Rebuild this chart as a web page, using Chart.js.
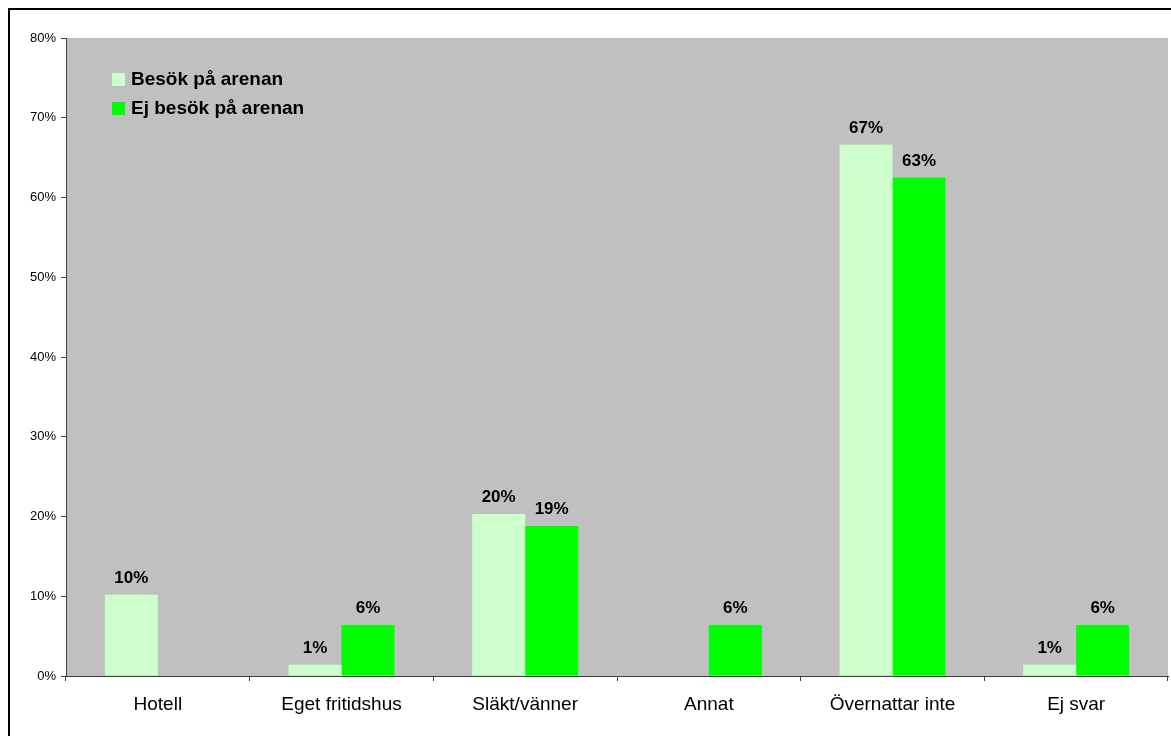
<!DOCTYPE html>
<html>
<head>
<meta charset="utf-8">
<script src="https://cdn.jsdelivr.net/npm/chart.js@4"></script>
<style>
  html, body { margin: 0; padding: 0; background: #fff; }
  #wrap { width: 1171px; height: 736px; position: relative; }
</style>
</head>
<body>
<div id="wrap"><canvas id="chart" width="1171" height="736"></canvas></div>
<script>
const categories = ['Hotell', 'Eget fritidshus', 'Släkt/vänner', 'Annat', 'Övernattar inte', 'Ej svar'];
const seriesNames = ['Besök på arenan', 'Ej besök på arenan'];
const besok = [10.2, 1.4, 20.3, 0, 66.6, 1.4];
const ejBesok = [0, 6.4, 18.8, 6.4, 62.5, 6.4];
const yTicks = [0, 10, 20, 30, 40, 50, 60, 70, 80];

const FONT = 'Arial, "Liberation Sans", sans-serif';

// gray plot area + outer frame
const backdrop = {
  id: 'backdrop',
  beforeDraw(chart) {
    const { ctx, chartArea: a } = chart;
    ctx.save();
    ctx.fillStyle = '#000';
    ctx.fillRect(8, 8, 1300, 2);
    ctx.fillRect(8, 8, 2, 900);
    ctx.fillStyle = '#c0c0c0';
    ctx.fillRect(a.left, a.top, a.right - a.left, a.bottom - a.top);
    ctx.restore();
  }
};

// value labels above bars + legend inside plot
const labels = {
  id: 'labels',
  afterDatasetsDraw(chart) {
    const ctx = chart.ctx;
    ctx.save();
    ctx.font = 'bold 17px ' + FONT;
    ctx.fillStyle = '#000';
    ctx.textAlign = 'center';
    ctx.textBaseline = 'alphabetic';
    chart.data.datasets.forEach((ds, i) => {
      chart.getDatasetMeta(i).data.forEach((bar, j) => {
        const v = ds.data[j];
        if (!v) return;
        ctx.fillText(Math.round(v) + '%', bar.x, bar.y - 12);
      });
    });

    ctx.font = 'bold 19px ' + FONT;
    ctx.textAlign = 'left';
    ctx.textBaseline = 'middle';
    chart.data.datasets.forEach((ds, i) => {
      const y = 80 + i * 29;
      ctx.fillStyle = ds.backgroundColor;
      ctx.fillRect(112, y - 7, 13, 13);
      ctx.fillStyle = '#000';
      ctx.fillText(ds.label, 131, y);
    });
    ctx.restore();
  }
};

new Chart(document.getElementById('chart'), {
  type: 'bar',
  data: {
    labels: categories,
    datasets: [
      { label: seriesNames[0], data: besok, backgroundColor: '#ccffcc', borderWidth: 0 },
      { label: seriesNames[1], data: ejBesok, backgroundColor: '#00ff00', borderWidth: 0 }
    ]
  },
  options: {
    responsive: false,
    animation: false,
    layout: { padding: { top: 38, right: 3, left: 0, bottom: 0 } },
    categoryPercentage: 0.577,
    barPercentage: 1,
    plugins: { legend: { display: false }, tooltip: { enabled: false } },
    scales: {
      x: {
        afterFit(s) { s.height = 60; },
        grid: { offset: true, drawOnChartArea: false, drawTicks: true, tickLength: 5, tickColor: '#404040' },
        border: { display: true, color: '#404040', width: 1 },
        ticks: { color: '#000', font: { family: FONT, size: 19 }, padding: 12, maxRotation: 0 }
      },
      y: {
        min: 0, max: 80,
        afterFit(s) { s.width = 66; },
        afterBuildTicks(s) { s.ticks = yTicks.map(v => ({ value: v })); },
        grid: { drawOnChartArea: false, drawTicks: true, tickLength: 5, tickColor: '#404040' },
        border: { display: true, color: '#404040', width: 1 },
        ticks: { color: '#000', font: { family: FONT, size: 13 }, padding: 5, callback: v => v + '%' }
      }
    }
  },
  plugins: [backdrop, labels]
});
</script>
</body>
</html>
